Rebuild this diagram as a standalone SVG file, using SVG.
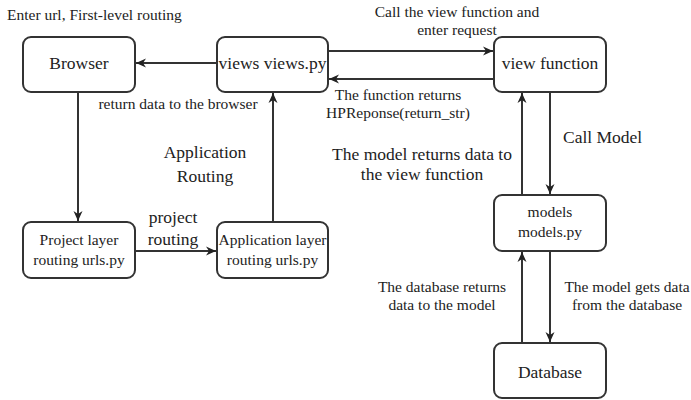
<svg xmlns="http://www.w3.org/2000/svg" width="691" height="400" viewBox="0 0 691 400">
<defs>
<style>
.box{fill:#fff;stroke:#333;stroke-width:2}
.t{font-family:"Liberation Serif","Times New Roman",serif;fill:#222}
.nt{font-size:17.5px;text-anchor:middle}
.ns{font-size:15.5px;text-anchor:middle}
.lb{font-size:15.5px}
.lg{font-size:17.5px}
.c{fill:none;stroke:#333;stroke-width:2}
</style>
<marker id="ah" markerUnits="userSpaceOnUse" markerWidth="11" markerHeight="10" refX="10" refY="5" orient="auto">
<path d="M0,0.5 L10,5 L0,9.5 L3,5 Z" fill="#222"/>
</marker>
</defs>
<rect width="691" height="400" fill="#fff"/>
<g id="connectors">
<line class="c" x1="217" y1="63" x2="136" y2="63" marker-end="url(#ah)"/>
<line class="c" x1="78" y1="92" x2="78" y2="221" marker-end="url(#ah)"/>
<line class="c" x1="135" y1="251" x2="216" y2="251" marker-end="url(#ah)"/>
<line class="c" x1="273" y1="222" x2="273" y2="93" marker-end="url(#ah)"/>
<line class="c" x1="328" y1="51" x2="493" y2="51" marker-end="url(#ah)"/>
<line class="c" x1="494" y1="79" x2="329" y2="79" marker-end="url(#ah)"/>
<line class="c" x1="550" y1="92" x2="550" y2="194" marker-end="url(#ah)"/>
<line class="c" x1="522" y1="195" x2="522" y2="93" marker-end="url(#ah)"/>
<line class="c" x1="550" y1="251" x2="550" y2="342" marker-end="url(#ah)"/>
<line class="c" x1="522" y1="343" x2="522" y2="252" marker-end="url(#ah)"/>
</g>
<g id="labels" class="t">
<text class="lb" x="7" y="20">Enter url, First-level routing</text>
<text class="lb" x="178" y="109" text-anchor="middle">return data to the browser</text>
<text class="lg" x="205" y="158" text-anchor="middle">Application</text>
<text class="lg" x="205" y="182" text-anchor="middle">Routing</text>
<text class="lg" x="173" y="223" text-anchor="middle">project</text>
<text class="lg" x="173" y="245" text-anchor="middle">routing</text>
<text class="lb" x="457" y="17" text-anchor="middle">Call the view function and</text>
<text class="lb" x="457" y="35" text-anchor="middle">enter request</text>
<text class="lb" x="398" y="100" text-anchor="middle">The function returns</text>
<text class="lb" x="398" y="118" text-anchor="middle">HPReponse(return_str)</text>
<text class="lg" x="563" y="143">Call Model</text>
<text class="lg" x="422" y="160" text-anchor="middle">The model returns data to</text>
<text class="lg" x="422" y="180" text-anchor="middle">the view function</text>
<text class="lb" x="442" y="292" text-anchor="middle">The database returns</text>
<text class="lb" x="442" y="310" text-anchor="middle">data to the model</text>
<text class="lb" x="627" y="292" text-anchor="middle">The model gets data</text>
<text class="lb" x="627" y="310" text-anchor="middle">from the database</text>
</g>
<g id="browser">
<rect class="box" x="23" y="37" width="112" height="55" rx="8"/>
<text class="t nt" x="79" y="69">Browser</text>
</g>
<g id="views">
<rect class="box" x="217" y="37" width="111" height="55" rx="8"/>
<text class="t nt" x="272.5" y="69">views views.py</text>
</g>
<g id="view-function">
<rect class="box" x="494" y="37" width="112" height="55" rx="8"/>
<text class="t nt" x="550" y="69">view function</text>
</g>
<g id="project-routing">
<rect class="box" x="23" y="222" width="112" height="56" rx="8"/>
<text class="t ns" x="79" y="245">Project layer</text>
<text class="t ns" x="79" y="265">routing urls.py</text>
</g>
<g id="app-routing">
<rect class="box" x="217" y="222" width="111" height="56" rx="8"/>
<text class="t ns" x="272.5" y="245">Application layer</text>
<text class="t ns" x="272.5" y="265">routing urls.py</text>
</g>
<g id="models">
<rect class="box" x="494" y="195" width="112" height="56" rx="8"/>
<text class="t ns" x="550" y="217">models</text>
<text class="t ns" x="550" y="237">models.py</text>
</g>
<g id="database">
<rect class="box" x="494" y="343" width="112" height="55" rx="8"/>
<text class="t nt" x="550" y="378">Database</text>
</g>
</svg>
